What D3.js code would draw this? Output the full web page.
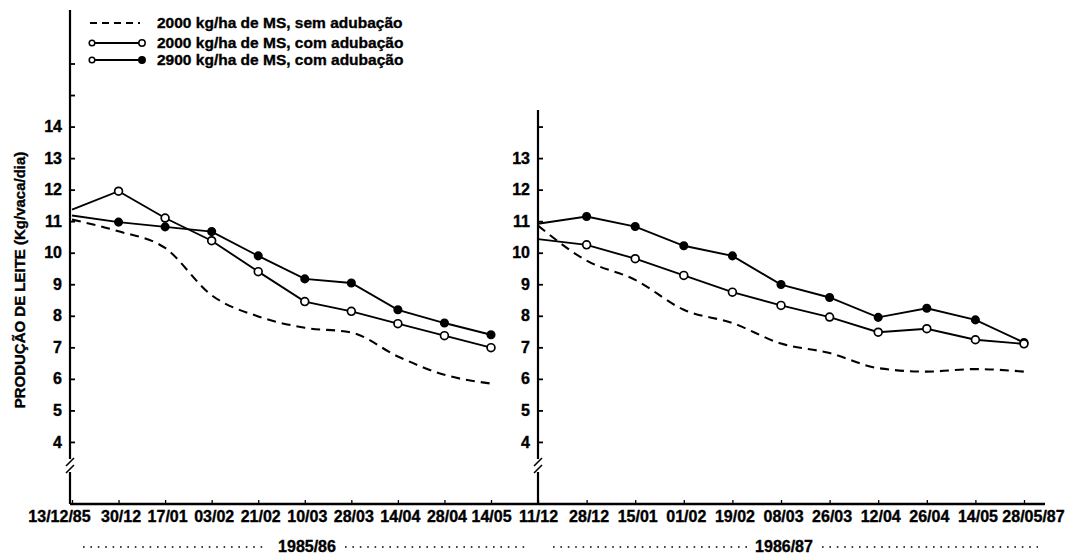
<!DOCTYPE html>
<html>
<head>
<meta charset="utf-8">
<script src="https://cdn.jsdelivr.net/npm/d3@7"></script>
<style>
  html, body { margin: 0; padding: 0; background: #fff; }
  svg { display: block; }
  text { font-family: "Liberation Sans", Arial, Helvetica, sans-serif; font-weight: bold; fill: #000; stroke: #000; stroke-width: 0.35px; }
</style>
</head>
<body>
<svg id="chart" width="1068" height="557"></svg>
<script>
// ---------- data ----------
const leftCats  = ["13/12/85","30/12","17/01","03/02","21/02","10/03","28/03","14/04","28/04","14/05"];
const leftSem2000 = [11.05,10.68,10.15,8.65,7.98,7.62,7.47,6.71,6.13,5.85];
const leftCom2000 = [11.37,11.95,11.10,10.38,9.40,8.45,8.14,7.75,7.37,6.99];
const leftCom2900 = [11.18,10.97,10.82,10.67,9.90,9.17,9.04,8.19,7.77,7.40];

const rightCats = ["11/12","28/12","15/01","01/02","19/02","08/03","26/03","12/04","26/04","14/05","28/05/87"];
const rightSem2000 = [10.86,9.75,9.14,8.19,7.77,7.12,6.82,6.34,6.23,6.31,6.23];
const rightCom2000 = [10.43,10.25,9.81,9.28,8.75,8.33,7.96,7.48,7.59,7.24,7.11];
const rightCom2900 = [10.92,11.15,10.83,10.22,9.90,8.99,8.58,7.95,8.24,7.87,7.15];

const leftTicks  = [4,5,6,7,8,9,10,11,12,13,14,15,16];
const leftLabels = [4,5,6,7,8,9,10,11,12,13,14];
const rightTicks = [4,5,6,7,8,9,10,11,12,13,14];
const rightLabels = [4,5,6,7,8,9,10,11,12,13];

const legendLabels = ["2000 kg/ha de MS, sem adubação",
                      "2000 kg/ha de MS, com adubação",
                      "2900 kg/ha de MS, com adubação"];
const seasons = ["1985/86","1986/87"];
const yTitle = "PRODUÇÃO DE LEITE (Kg/vaca/dia)";

// ---------- layout ----------
const svg = d3.select("#chart");
svg.append("rect").attr("width",1068).attr("height",557).attr("fill","#fff");

const baseY = 504;
const y = d3.scaleLinear().domain([2,16]).range([505,63.5]);
const xL = d3.scalePoint().domain(leftCats).range([72,491]);
const xR = d3.scalePoint().domain(rightCats).range([538,1024]);
const leftAxisX = 70, rightAxisX = 538;

// ---------- axes ----------
function yAxis(xPos, ticks, labels, topY) {
  const g = svg.append("g").attr("transform", `translate(${xPos},0)`);
  const ax = d3.axisLeft(y).tickValues(ticks)
    .tickSizeInner(-5).tickSizeOuter(0).tickPadding(8)
    .tickFormat(d => labels.includes(d) ? d : "");
  g.call(ax);
  g.select(".domain").remove();
  g.selectAll(".tick line").attr("stroke","#000").attr("stroke-width",1.8);
  g.selectAll(".tick text").attr("font-size",16).attr("fill","#000")
    .attr("font-family","Liberation Sans, Arial, sans-serif").attr("font-weight","bold");
  // axis line with a break
  g.append("line").attr("x1",0).attr("x2",0).attr("y1",topY).attr("y2",459)
    .attr("stroke","#000").attr("stroke-width",2.2);
  g.append("line").attr("x1",0).attr("x2",0).attr("y1",472).attr("y2",baseY)
    .attr("stroke","#000").attr("stroke-width",2.2);
  [462,469].forEach(by => {
    g.append("line").attr("x1",-4).attr("x2",4).attr("y1",by+4).attr("y2",by-4)
      .attr("stroke","#000").attr("stroke-width",1.6);
  });
}
yAxis(leftAxisX, leftTicks, leftLabels, 10);
yAxis(rightAxisX, rightTicks, rightLabels, 110);

// baseline
svg.append("line").attr("x1",leftAxisX).attr("x2",1045).attr("y1",baseY).attr("y2",baseY)
  .attr("stroke","#000").attr("stroke-width",2.4);

function xAxis(scale, shiftFirst, shiftLast) {
  const g = svg.append("g").attr("transform", `translate(0,${baseY})`);
  const ax = d3.axisBottom(scale).tickSizeInner(-4).tickSizeOuter(0).tickPadding(7);
  g.call(ax);
  g.select(".domain").remove();
  g.selectAll(".tick line").attr("stroke","#000").attr("stroke-width",1.3);
  const txt = g.selectAll(".tick text").attr("font-size",16).attr("fill","#000")
    .attr("font-family","Liberation Sans, Arial, sans-serif").attr("font-weight","bold")
    .attr("dx", 2);
  const n = scale.domain().length;
  txt.filter((d,i) => i === 0).attr("dx", shiftFirst);
  txt.filter((d,i) => i === n-1).attr("dx", shiftLast);
}
xAxis(xL, -13, 0);
xAxis(xR, 0, 9);

// y title
svg.append("text")
  .attr("transform","translate(25,280) rotate(-90)")
  .attr("text-anchor","middle")
  .attr("font-size",15)
  .text(yTitle);

// ---------- series ----------
function drawSeries(xs, cats, vals, kind) {
  const pts = cats.map((c,i) => [xs(c), y(vals[i])]);
  const line = d3.line().curve(kind === "dash" ? d3.curveMonotoneX : d3.curveLinear);
  const p = svg.append("path").attr("d", line(pts)).attr("fill","none")
    .attr("stroke","#000").attr("stroke-width", kind === "dash" ? 2.1 : 1.9);
  if (kind === "dash") p.attr("stroke-dasharray","9,6");
  if (kind === "open" || kind === "filled") {
    svg.append("g").selectAll("circle").data(pts.slice(1)).join("circle")
      .attr("cx", d => d[0]).attr("cy", d => d[1])
      .attr("r", kind === "open" ? 3.9 : 3.7)
      .attr("fill", kind === "open" ? "#fff" : "#000")
      .attr("stroke","#000").attr("stroke-width",1.7);
  }
}
drawSeries(xL, leftCats, leftSem2000, "dash");
drawSeries(xL, leftCats, leftCom2900, "filled");
drawSeries(xL, leftCats, leftCom2000, "open");
drawSeries(xR, rightCats, rightSem2000, "dash");
drawSeries(xR, rightCats, rightCom2900, "filled");
drawSeries(xR, rightCats, rightCom2000, "open");

// ---------- legend ----------
const lg = svg.append("g");
const rowsY = [23, 43, 60];
lg.append("line").attr("x1",90).attr("x2",140).attr("y1",rowsY[0]).attr("y2",rowsY[0])
  .attr("stroke","#000").attr("stroke-width",2).attr("stroke-dasharray","7,5");
[1,2].forEach(r => {
  lg.append("line").attr("x1",92).attr("x2",141).attr("y1",rowsY[r]).attr("y2",rowsY[r])
    .attr("stroke","#000").attr("stroke-width",1.8);
  lg.append("circle").attr("cx",92).attr("cy",rowsY[r]).attr("r",2.8)
    .attr("fill","#fff").attr("stroke","#000").attr("stroke-width",1.5);
  lg.append("circle").attr("cx",142).attr("cy",rowsY[r]).attr("r",3.2)
    .attr("fill", r === 1 ? "#fff" : "#000").attr("stroke","#000").attr("stroke-width",1.5);
});
legendLabels.forEach((t,i) => {
  lg.append("text").attr("x",157).attr("y",rowsY[i]+5).attr("font-size",15.5).text(t);
});

// ---------- season labels ----------
const sy = 547;
function dots(x1,x2) {
  svg.append("line").attr("x1",x1).attr("x2",x2).attr("y1",sy).attr("y2",sy)
    .attr("stroke","#000").attr("stroke-width",1.6).attr("stroke-dasharray","1.6,5.8");
}
dots(83,268); dots(345,530); dots(553,748); dots(822,1038);
svg.append("text").attr("x",307).attr("y",sy+5).attr("text-anchor","middle").attr("font-size",16).text(seasons[0]);
svg.append("text").attr("x",784).attr("y",sy+5).attr("text-anchor","middle").attr("font-size",16).text(seasons[1]);
</script>
</body>
</html>
